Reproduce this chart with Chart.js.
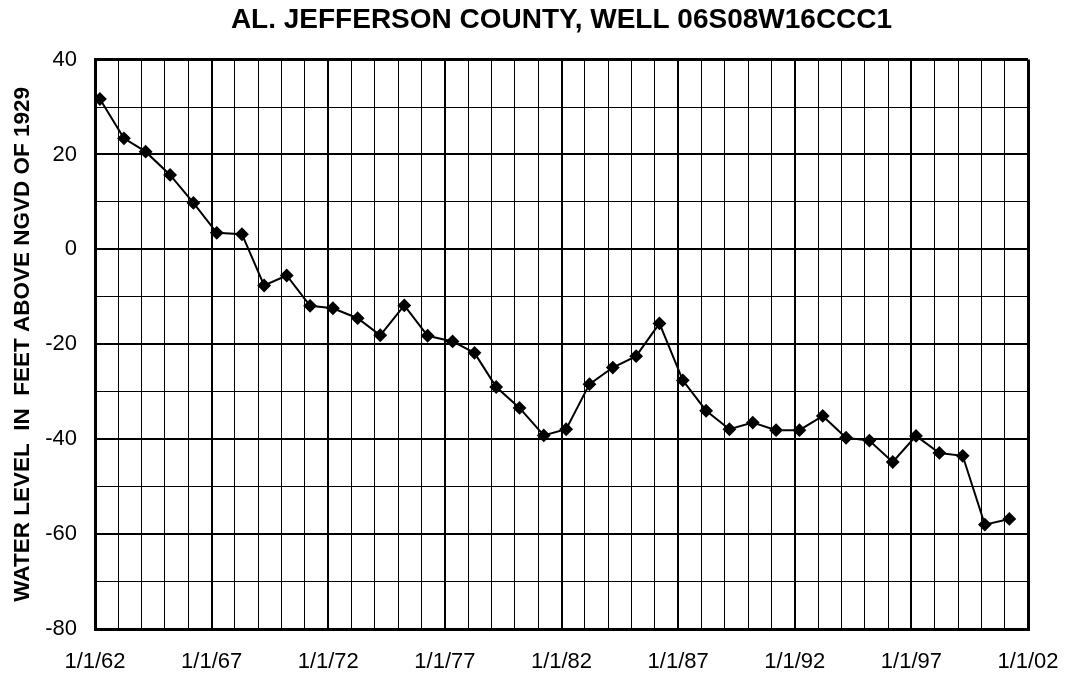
<!DOCTYPE html>
<html>
<head>
<meta charset="utf-8">
<script src="https://cdn.jsdelivr.net/npm/chart.js@4/dist/chart.umd.min.js"></script>
<style>
  html, body { margin: 0; padding: 0; background: #fff; }
  #wrap { width: 1065px; height: 677px; }
</style>
</head>
<body>
<div id="wrap"><canvas id="grafico" width="1065" height="677"></canvas></div>
<script>
// datas de medição (ano decimal) e nível da água
const anosMedicao = [
  1962.21, 1963.24, 1964.17, 1965.22, 1966.22, 1967.22, 1968.30, 1969.25,
  1970.22, 1971.22, 1972.20, 1973.26, 1974.23, 1975.26, 1976.26, 1977.33,
  1978.27, 1979.20, 1980.20, 1981.24, 1982.20, 1983.20, 1984.20, 1985.20,
  1986.20, 1987.20, 1988.20, 1989.20, 1990.20, 1991.20, 1992.20, 1993.20,
  1994.20, 1995.20, 1996.20, 1997.20, 1998.20, 1999.20, 2000.15, 2001.20
];
const nivelAgua = [
  31.7, 23.4, 20.6, 15.7, 9.8, 3.5, 3.2, -7.6,
  -5.5, -11.9, -12.4, -14.5, -18.1, -11.8, -18.2, -19.4,
  -21.8, -29.0, -33.4, -39.2, -37.9, -28.4, -24.9, -22.5,
  -15.6, -27.6, -34.0, -37.9, -36.5, -38.1, -38.1, -35.1,
  -39.7, -40.3, -44.8, -39.3, -42.9, -43.5, -58.0, -56.8
];
const rotulosX = ['1/1/62', '1/1/67', '1/1/72', '1/1/77', '1/1/82', '1/1/87', '1/1/92', '1/1/97', '1/1/02'];
const anoInicial = 1962;
const anoFinal = 2002;

const fonte = "Arial, 'Liberation Sans', sans-serif";

// linhas da grade: borda 3px, principais 2px, secundárias 1px
const larguraGradeX = (ctx) => {
  const v = ctx.tick ? ctx.tick.value : 0;
  if (v === anoInicial || v === anoFinal) return 3;
  return (v - anoInicial) % 5 === 0 ? 2 : 1;
};
const larguraGradeY = (ctx) => {
  const v = ctx.tick ? ctx.tick.value : 0;
  if (v === -80 || v === 40) return 3;
  return v % 20 === 0 ? 2 : 1;
};

const ctx = document.getElementById('grafico').getContext('2d');
new Chart(ctx, {
  type: 'line',
  data: {
    datasets: [{
      data: anosMedicao.map((a, i) => ({ x: a, y: nivelAgua[i] })),
      borderColor: '#000',
      backgroundColor: '#000',
      borderWidth: 2,
      pointStyle: 'rectRot',
      pointRadius: 5.5,
      pointBackgroundColor: '#000',
      pointBorderColor: '#000',
      tension: 0,
      fill: false
    }]
  },
  options: {
    responsive: false,
    animation: false,
    devicePixelRatio: 1,
    layout: { padding: { top: 2, right: 0, bottom: 0, left: 4 } },
    plugins: {
      legend: { display: false },
      tooltip: { enabled: false },
      title: {
        display: true,
        fullSize: false,
        text: 'AL. JEFFERSON COUNTY, WELL 06S08W16CCC1',
        color: '#000',
        font: { family: fonte, size: 28, weight: 'bold' },
        padding: { top: 1, bottom: 23 }
      }
    },
    scales: {
      x: {
        type: 'linear',
        min: anoInicial,
        max: anoFinal,
        afterFit: (escala) => {
          escala.height = 48;
          escala.paddingRight = 37;
          escala.paddingLeft = 0;
        },
        ticks: {
          stepSize: 1,
          autoSkip: false,
          maxRotation: 0,
          color: '#000',
          padding: 20,
          font: { family: fonte, size: 22 },
          callback: (v) => {
            const k = v - anoInicial;
            return k % 5 === 0 ? rotulosX[k / 5] : '';
          }
        },
        grid: {
          color: '#000',
          lineWidth: larguraGradeX,
          drawTicks: false
        },
        border: { color: '#000', width: 3 }
      },
      y: {
        min: -80,
        max: 40,
        afterFit: (escala) => {
          escala.width = 91;
        },
        ticks: {
          stepSize: 10,
          color: '#000',
          padding: 18,
          font: { family: fonte, size: 22 },
          callback: (v) => (v % 20 === 0 ? v : '')
        },
        grid: {
          color: '#000',
          lineWidth: larguraGradeY,
          drawTicks: false
        },
        border: { color: '#000', width: 3 },
        title: {
          display: true,
          text: 'WATER LEVEL  IN  FEET ABOVE NGVD OF 1929',
          color: '#000',
          font: { family: fonte, size: 22.5, weight: 'bold' },
          padding: { top: 5, bottom: 9 }
        }
      }
    }
  }
});
</script>
</body>
</html>
